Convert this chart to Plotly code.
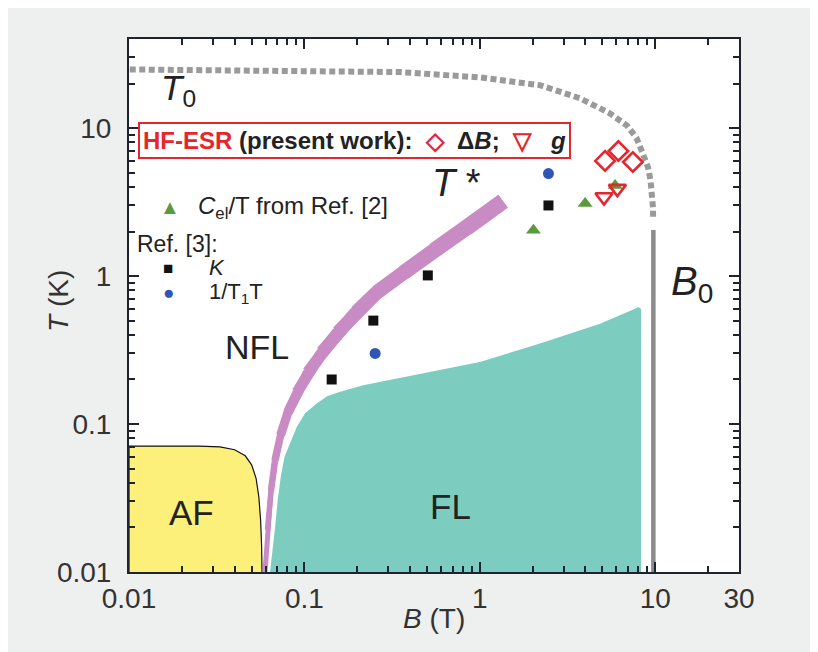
import plotly.graph_objects as go

# ---------------- data ----------------
# T0 crossover (dotted grey)
t0_B = [0.0101, 0.0944, 0.351, 1.0, 2.2, 3.72, 5.5, 6.9, 7.8, 8.5, 9.1, 9.4, 9.6, 9.7, 9.72]
t0_T = [24.9, 24.2, 23.9, 22.0, 19.5, 15.9, 12.6, 10.4, 8.6, 6.7, 5.4, 4.4, 3.6, 2.9, 2.4]

# B0 vertical line
b0_B = [9.75, 9.75]
b0_T = [0.01, 2.05]

# AF region boundary
af_B = [0.01, 0.01, 0.025, 0.033, 0.040, 0.046, 0.050, 0.053, 0.055, 0.0563, 0.057, 0.0573]
af_T = [0.01, 0.071, 0.071, 0.070, 0.067, 0.061, 0.053, 0.043, 0.032, 0.022, 0.015, 0.01]

# FL region boundary
fl_B = [0.0637, 0.066, 0.068, 0.0705, 0.0735, 0.077, 0.0904, 0.1008, 0.1175, 0.1346, 0.160,
        0.216, 0.336, 0.52, 1.0, 2.2, 4.84, 7.6, 8.0, 8.3, 8.3]
fl_T = [0.01, 0.014, 0.02, 0.031, 0.045, 0.06, 0.0955, 0.1183, 0.1376, 0.154, 0.165,
        0.183, 0.203, 0.225, 0.263, 0.35, 0.477, 0.60, 0.618, 0.60, 0.01]

# T* crossover band (centre line)
ts_B = [0.0596, 0.0616, 0.0645, 0.0680, 0.0731, 0.0806, 0.0907, 0.1048, 0.1260, 0.1554,
        0.1969, 0.2594, 0.3697, 0.5481, 0.834, 1.356]
ts_T = [0.01, 0.0192, 0.0357, 0.0569, 0.0840, 0.1202, 0.1640, 0.2239, 0.3055, 0.4172,
        0.5694, 0.7774, 1.061, 1.494, 2.104, 3.202]

# symbols
k_B = [0.143, 0.247, 0.505, 2.46]
k_T = [0.20, 0.50, 1.01, 3.0]
t1_B = [0.253, 2.46]
t1_T = [0.30, 4.93]
cel_B = [2.02, 3.98, 5.9]
cel_T = [2.04, 3.09, 4.1]
dB_B = [5.17, 6.16, 7.45]
dB_T = [6.0, 7.0, 5.9]
g_B = [5.1, 6.08]
g_T = [3.42, 3.9]

x_tickvals = [0.01, 0.1, 1, 10, 30]
x_ticktext = ["0.01", "0.1", "1", "10", "30"]
x_minor = [0.02, 0.03, 0.04, 0.05, 0.06, 0.07, 0.08, 0.09,
           0.2, 0.3, 0.4, 0.5, 0.6, 0.7, 0.8, 0.9,
           2, 3, 4, 5, 6, 7, 8, 9, 20]
y_tickvals = [0.01, 0.1, 1, 10]
y_ticktext = ["0.01", "0.1", "1", "10"]
y_minor = [0.02, 0.03, 0.04, 0.05, 0.06, 0.07, 0.08, 0.09,
           0.2, 0.3, 0.4, 0.5, 0.6, 0.7, 0.8, 0.9,
           2, 3, 4, 5, 6, 7, 8, 9, 20, 30]

# ---------------- style ----------------
FONT = "Liberation Sans, Arial, sans-serif"
RED = "#e5262e"
AXC = "#1e2330"
TXT = "#222222"
TICKC = "#333333"
PINK = "#c98bc4"
# stroke width of each piece of the T* band (it widens upward)
BAND_W = [5, 5.5, 6.5, 7.5, 9, 10, 11, 12, 13, 13.5, 14, 14.5, 15, 15.5, 16]

fig = go.Figure()

fig.add_trace(go.Scatter(x=fl_B, y=fl_T, mode="lines", fill="toself",
                         fillcolor="#7ccdc0", line=dict(width=0), hoverinfo="skip"))
fig.add_trace(go.Scatter(x=af_B, y=af_T, mode="lines", fill="toself",
                         fillcolor="#fdf07a", line=dict(width=1.2, color="#111111"),
                         hoverinfo="skip"))
# each piece runs one point past its end so that the next (wider) piece covers the joint
for i, w in enumerate(BAND_W):
    fig.add_trace(go.Scatter(x=ts_B[i:i + 3], y=ts_T[i:i + 3], mode="lines",
                             line=dict(width=w, color=PINK), hoverinfo="skip"))
fig.add_trace(go.Scatter(x=t0_B, y=t0_T, mode="lines",
                         line=dict(width=6, color="#9a9a9a", dash="6px,3.5px")))
fig.add_trace(go.Scatter(x=b0_B, y=b0_T, mode="lines",
                         line=dict(width=4.5, color="#8c8c8c")))

fig.add_trace(go.Scatter(x=k_B, y=k_T, mode="markers",
                         marker=dict(symbol="square", size=10, color="#111111")))
fig.add_trace(go.Scatter(x=t1_B, y=t1_T, mode="markers",
                         marker=dict(symbol="circle", size=11, color="#2f55b5")))
fig.add_trace(go.Scatter(x=cel_B, y=cel_T, mode="markers",
                         marker=dict(symbol="triangle-up", size=13, color="#5b9a3c")))
fig.add_trace(go.Scatter(x=dB_B, y=dB_T, mode="markers",
                         marker=dict(symbol="diamond-open", size=15, color=RED,
                                     line=dict(width=2.6, color=RED))))
fig.add_trace(go.Scatter(x=g_B, y=g_T, mode="markers",
                         marker=dict(symbol="triangle-down-open", size=15, color=RED,
                                     line=dict(width=2.6, color=RED))))

# plot-area edges in window pixels (page has an 8 px body margin)
L, R, T, B = 129, 739, 39, 572
OFF = 8
W, H = 818 - OFF * 2, 652 - OFF


def PX(x):
    return (x - L) / (R - L)


def PY(y):
    return (B - y) / (B - T)


def note(text, x, y, size, xanchor="center", color=TXT, **kw):
    fig.add_annotation(text=text, x=PX(x), y=PY(y), xref="paper", yref="paper",
                       xanchor=xanchor, yanchor="middle", showarrow=False,
                       font=dict(family=FONT, size=size, color=color), **kw)


note("<i>T</i><sub>0</sub>", 178, 90, 35)
note("<b><span style='color:%s'>HF-ESR</span> (present work):&nbsp;&nbsp;"
     "<span style='color:%s'>◇</span>&nbsp;&nbsp;Δ<i>B</i>;&nbsp;&nbsp;"
     "<span style='color:%s'>▽</span>&nbsp;&nbsp;&nbsp;<i>g</i></b>" % (RED, RED, RED),
     354, 140, 24, bordercolor=RED, borderwidth=2, borderpad=3, bgcolor="white")
note("▲", 170, 207, 20, color="#5b9a3c")
note("<i>C</i><sub>el</sub>/T from Ref. [2]", 196, 207, 24, xanchor="left")
note("Ref. [3]:", 135, 244, 23, xanchor="left")
note("■", 168, 268, 17, color="#111111")
note("<i>K</i>", 207, 267, 22, xanchor="left")
note("●", 168, 292, 19, color="#2f55b5")
note("1/T<sub>1</sub>T", 207, 293, 22, xanchor="left")
note("<i>T</i> *", 456, 183, 38)
note("NFL", 257, 347, 34)
note("AF", 191, 512, 35)
note("FL", 450, 506, 35)
note("<i>B</i><sub>0</sub>", 692, 284, 40)
# axis titles
note("<i>B</i> (T)", 434, 618, 28, color=TICKC)
note("<i>T</i> (K)", 58, 301, 28, color=TICKC, textangle=-90)

axis_common = dict(type="log", showgrid=False, zeroline=False, showline=True,
                   linecolor=AXC, linewidth=2, mirror="allticks", ticks="inside",
                   ticklen=10, tickwidth=2, tickcolor=AXC,
                   tickfont=dict(family=FONT, size=28, color=TICKC),
                   tickmode="array")

fig.update_xaxes(**axis_common, range=[-2, 1.4771], tickvals=x_tickvals, ticktext=x_ticktext,
                 minor=dict(tickmode="array", tickvals=x_minor, ticks="inside", ticklen=6,
                            tickwidth=2, tickcolor=AXC))
fig.update_yaxes(**axis_common, range=[-2, 1.6021], tickvals=y_tickvals, ticktext=y_ticktext,
                 minor=dict(tickmode="array", tickvals=y_minor, ticks="inside", ticklen=6,
                            tickwidth=2, tickcolor=AXC),
                 ticklabelstandoff=10)

fig.update_layout(width=W, height=H, showlegend=False,
                  margin=dict(l=L - OFF, r=W - (R - OFF), t=T - OFF, b=H - (B - OFF)),
                  paper_bgcolor="#eef0ef", plot_bgcolor="white")

fig.write_html("out.html")
